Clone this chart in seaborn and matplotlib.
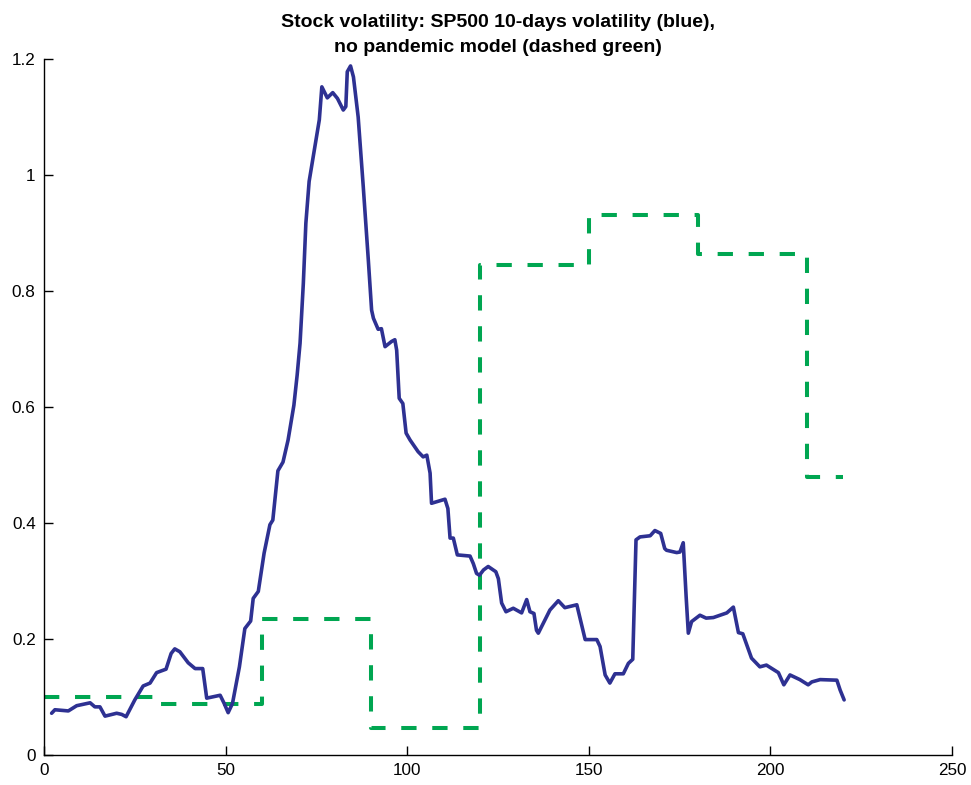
import numpy as np
import pandas as pd
import seaborn as sns
import matplotlib
matplotlib.use("Agg")
import matplotlib.pyplot as plt

# SP500 10-days volatility (blue)
vol_day = [2.1, 3.0, 6.7, 9.0, 12.7, 14.0, 15.4, 16.8, 20.0, 21.4, 22.6, 25.0, 27.3, 29.2,
           31.0, 33.6, 35.0, 36.0, 37.4, 39.7, 41.6, 43.7, 44.8, 48.5, 49.6, 50.7, 51.9,
           53.8, 55.3, 56.9, 57.6, 59.0, 60.6, 62.2, 63.0, 64.4, 65.8, 67.2, 68.8, 69.7,
           70.5, 71.4, 72.1, 73.0, 74.6, 75.8, 76.5, 78.0, 79.5, 80.8, 82.4, 83.1, 83.5,
           84.4, 85.2, 86.5, 87.9, 89.3, 90.2, 90.7, 92.0, 92.9, 93.9, 95.7, 96.6, 97.1,
           97.8, 98.8, 99.7, 100.8, 103.0, 104.4, 105.4, 106.3, 106.7, 110.4, 111.2, 111.8,
           112.7, 113.8, 117.3, 118.2, 119.1, 119.9, 121.0, 122.3, 124.4, 125.1, 126.0,
           127.2, 129.2, 131.5, 132.9, 133.8, 134.9, 135.6, 136.1, 139.3, 141.6, 143.4,
           146.7, 149.0, 152.2, 153.1, 154.5, 155.8, 157.2, 159.5, 160.9, 162.1, 163.0,
           164.1, 166.9, 168.2, 169.8, 170.9, 171.4, 174.2, 175.1, 176.0, 176.8, 177.4,
           178.3, 180.6, 182.3, 184.3, 188.0, 189.8, 191.2, 192.4, 194.8, 197.1, 198.9,
           202.2, 203.7, 205.4, 208.1, 210.4, 211.4, 213.7, 218.3, 219.2, 220.3]
vol_value = [0.072, 0.078, 0.076, 0.085, 0.090, 0.083, 0.083, 0.067, 0.072, 0.070, 0.066,
             0.095, 0.119, 0.124, 0.142, 0.148, 0.175, 0.183, 0.178, 0.159, 0.149, 0.149,
             0.098, 0.103, 0.089, 0.073, 0.089, 0.152, 0.218, 0.231, 0.270, 0.282, 0.348,
             0.397, 0.405, 0.490, 0.505, 0.543, 0.603, 0.655, 0.710, 0.813, 0.917, 0.989,
             1.049, 1.095, 1.152, 1.133, 1.142, 1.132, 1.112, 1.118, 1.178, 1.188, 1.169,
             1.100, 0.980, 0.853, 0.767, 0.753, 0.734, 0.735, 0.704, 0.713, 0.716, 0.698,
             0.615, 0.606, 0.555, 0.543, 0.523, 0.514, 0.517, 0.486, 0.434, 0.441, 0.425,
             0.374, 0.374, 0.345, 0.343, 0.330, 0.313, 0.310, 0.319, 0.325, 0.316, 0.304,
             0.262, 0.247, 0.253, 0.245, 0.268, 0.247, 0.244, 0.215, 0.210, 0.250, 0.266,
             0.254, 0.259, 0.199, 0.199, 0.187, 0.138, 0.124, 0.140, 0.140, 0.158, 0.165,
             0.371, 0.376, 0.378, 0.387, 0.382, 0.356, 0.353, 0.349, 0.350, 0.366, 0.273,
             0.210, 0.230, 0.241, 0.236, 0.237, 0.245, 0.255, 0.211, 0.209, 0.167, 0.152,
             0.155, 0.142, 0.121, 0.138, 0.130, 0.121, 0.126, 0.130, 0.129, 0.112, 0.095]

# No pandemic model (dashed green), piecewise constant
model_day = [0, 30, 60, 90, 120, 150, 180, 210, 220]
model_value = [0.100, 0.088, 0.234, 0.046, 0.845, 0.931, 0.864, 0.480, 0.480]

x_ticks = [0, 50, 100, 150, 200, 250]
y_ticks = [0, 0.2, 0.4, 0.6, 0.8, 1.0, 1.2]
y_tick_labels = ["0", "0.2", "0.4", "0.6", "0.8", "1", "1.2"]

sns.set_style("ticks")
plt.rcParams['font.family'] = ['Liberation Sans', 'DejaVu Sans']

fig = plt.figure(figsize=(9.71, 7.85), dpi=100)
ax = fig.add_axes([44 / 971, 1 - 755 / 785, (952 - 44) / 971, (755 - 59) / 785])

vol_df = pd.DataFrame({"day": vol_day, "vol": vol_value})
model_df = pd.DataFrame({"day": model_day, "vol": model_value})

sns.lineplot(data=model_df, x="day", y="vol", ax=ax, color="#00A651", lw=2.9,
             drawstyle="steps-post", linestyle=(0, (3.8, 3.9)), estimator=None, sort=False)
sns.lineplot(data=vol_df, x="day", y="vol", ax=ax, color="#2E3192", lw=2.6,
             estimator=None, sort=False)

ax.set_xlim(0, 250)
ax.set_ylim(0, 1.2)
ax.set_xticks(x_ticks)
ax.set_xticklabels([str(t) for t in x_ticks])
ax.set_yticks(y_ticks)
ax.set_yticklabels(y_tick_labels)
ax.set_xlabel("")
ax.set_ylabel("")
ax.tick_params(direction="in", length=6.5, width=1, labelsize=12.3, colors="black", pad=6)
for s in ["top", "right"]:
    ax.spines[s].set_visible(False)
for s in ["left", "bottom"]:
    ax.spines[s].set_color("black")
    ax.spines[s].set_linewidth(1)

ax.set_title("Stock volatility: SP500 10-days volatility (blue),\nno pandemic model (dashed green)",
             fontsize=14, fontweight="bold", pad=5, linespacing=1.6, color="black")

fig.savefig("out.png", dpi=100)
